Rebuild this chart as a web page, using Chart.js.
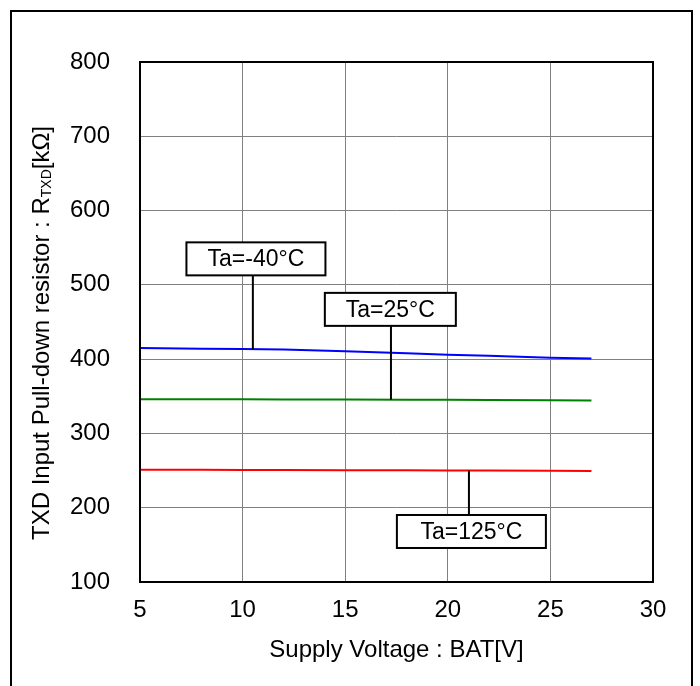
<!DOCTYPE html>
<html>
<head>
<meta charset="utf-8">
<script src="https://cdn.jsdelivr.net/npm/chart.js@4"></script>
<style>
  html, body { margin: 0; padding: 0; background: #fff; }
  #wrap { width: 700px; height: 686px; position: relative; }
</style>
</head>
<body>
<div id="wrap"><canvas id="chart" width="700" height="686"></canvas></div>
<script>
const voltage = [5, 8, 10, 12, 15, 18, 20, 22, 25, 27];
const rMinus40 = [415, 414, 413.5, 413, 410.5, 408, 406, 404.5, 402, 401];
const r25 = [346, 346, 346, 345.8, 345.6, 345.4, 345.2, 345, 344.6, 344.4];
const r125 = [251, 251, 250.8, 250.7, 250.5, 250.3, 250.2, 250, 249.7, 249.5];
const xTicks = [5, 10, 15, 20, 25, 30];
const yTicks = [100, 200, 300, 400, 500, 600, 700, 800];

// callout boxes: leader x, leader end value, box centre (data units), box width px
const callouts = [
  { text: 'Ta=-40°C', lx: 10.5, ly: 413.5, bx: 10.65, by: 535, w: 139 },
  { text: 'Ta=25°C', lx: 17.23, ly: 345.5, bx: 17.2, by: 467, w: 131 },
  { text: 'Ta=125°C', lx: 21.03, ly: 250.2, bx: 21.15, by: 168, w: 149 }
];

const FONT = '"Liberation Sans", Arial, sans-serif';

const decorPlugin = {
  id: 'decor',
  beforeDraw(chart) {
    const ctx = chart.ctx;
    ctx.save();
    ctx.fillStyle = '#fff';
    ctx.fillRect(0, 0, chart.width, chart.height);
    ctx.restore();
  },
  afterDraw(chart) {
    const { ctx, chartArea: a, scales } = chart;
    ctx.save();
    // plot frame
    ctx.strokeStyle = '#000';
    ctx.lineWidth = 2;
    ctx.strokeRect(a.left, a.top, a.right - a.left, a.bottom - a.top);
    // outer frame
    ctx.strokeRect(11, 11, 681, 690);

    // callouts
    ctx.font = '23px ' + FONT;
    ctx.textAlign = 'center';
    ctx.textBaseline = 'middle';
    callouts.forEach(c => {
      const lx = scales.x.getPixelForValue(c.lx);
      const ly = scales.y.getPixelForValue(c.ly);
      const cx = scales.x.getPixelForValue(c.bx);
      const cy = scales.y.getPixelForValue(c.by);
      const h = 33;
      const edge = ly < cy ? cy - h / 2 : cy + h / 2;
      ctx.beginPath();
      ctx.lineWidth = 2;
      ctx.moveTo(lx, edge);
      ctx.lineTo(lx, ly);
      ctx.stroke();
      ctx.fillStyle = '#fff';
      ctx.fillRect(cx - c.w / 2, cy - h / 2, c.w, h);
      ctx.strokeRect(cx - c.w / 2, cy - h / 2, c.w, h);
      ctx.fillStyle = '#000';
      ctx.fillText(c.text, cx, cy + 1);
    });

    // y axis title with subscript
    ctx.translate(42, 333);
    ctx.rotate(-Math.PI / 2);
    ctx.textAlign = 'left';
    ctx.textBaseline = 'middle';
    const big = '24px ' + FONT, small = '14px ' + FONT;
    const p1 = 'TXD Input Pull-down resistor : R', p2 = 'TXD', p3 = '[kΩ]';
    ctx.font = big; const w1 = ctx.measureText(p1).width, w3 = ctx.measureText(p3).width;
    ctx.font = small; const w2 = ctx.measureText(p2).width;
    let x = -(w1 + w2 + w3) / 2;
    ctx.font = big; ctx.fillText(p1, x, 0); x += w1;
    ctx.font = small; ctx.fillText(p2, x, 5); x += w2;
    ctx.font = big; ctx.fillText(p3, x, 0);
    ctx.restore();
  }
};

new Chart(document.getElementById('chart'), {
  type: 'line',
  data: {
    datasets: [
      { label: 'Ta=-40°C', data: voltage.map((v, i) => ({ x: v, y: rMinus40[i] })), borderColor: '#0000ff' },
      { label: 'Ta=25°C', data: voltage.map((v, i) => ({ x: v, y: r25[i] })), borderColor: '#008000' },
      { label: 'Ta=125°C', data: voltage.map((v, i) => ({ x: v, y: r125[i] })), borderColor: '#ff0000' }
    ]
  },
  options: {
    responsive: false,
    animation: false,
    layout: { padding: { left: 0, top: 62, right: 47, bottom: 0 } },
    elements: { point: { radius: 0 }, line: { borderWidth: 2, tension: 0 } },
    plugins: { legend: { display: false }, tooltip: { enabled: false } },
    scales: {
      x: {
        type: 'linear', min: 5, max: 30,
        afterBuildTicks: s => { s.ticks = xTicks.map(v => ({ value: v })); },
        afterFit: s => { s.height = 104; },
        ticks: { color: '#000', font: { size: 24, family: FONT }, padding: 14, maxRotation: 0 },
        grid: { color: '#808080', lineWidth: 1, drawTicks: false },
        border: { display: false },
        title: { display: true, text: 'Supply Voltage : BAT[V]', color: '#000', font: { size: 24, family: FONT }, padding: { top: 4, bottom: 21 } }
      },
      y: {
        type: 'linear', min: 100, max: 800,
        afterBuildTicks: s => { s.ticks = yTicks.map(v => ({ value: v })); },
        afterFit: s => { s.width = 140; },
        ticks: { color: '#000', font: { size: 24, family: FONT }, padding: 30 },
        grid: { color: '#808080', lineWidth: 1, drawTicks: false },
        border: { display: false }
      }
    }
  },
  plugins: [decorPlugin]
});
</script>
</body>
</html>
